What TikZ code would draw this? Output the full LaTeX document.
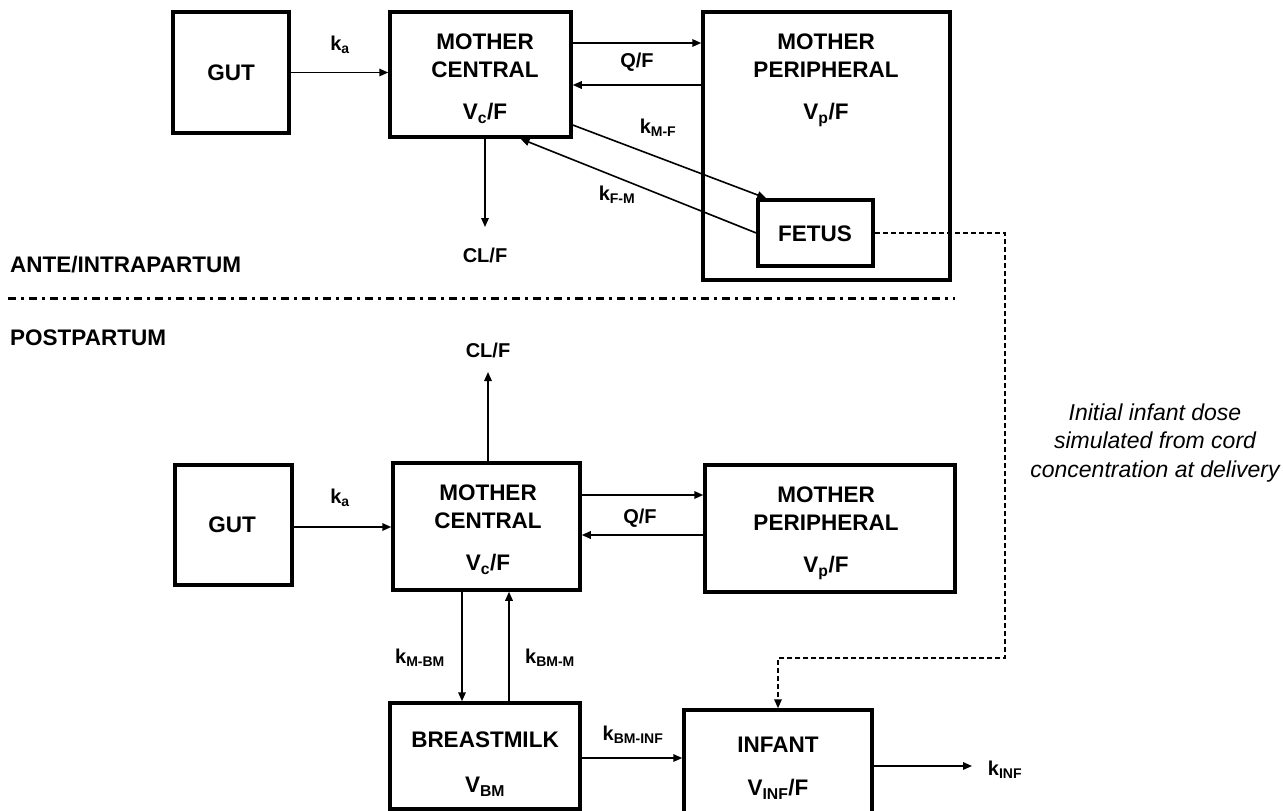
\documentclass[tikz,border=0pt]{standalone}
\usepackage{fontspec}
\setmainfont{Liberation Sans}
\usetikzlibrary{arrows.meta}

\begin{document}
\begin{tikzpicture}[x=1pt,y=-1pt,
  comp/.style={draw,line width=3.5pt,inner sep=0pt},
  comptext/.style={align=center,inner sep=0pt,font=\bfseries\fontsize{22.5}{28}\selectfont},
  rate/.style={inner sep=0pt,font=\bfseries\fontsize{20}{24}\selectfont},
  flow/.style={line width=1.6pt,-{Triangle[length=9pt,width=7.5pt]}},
  cord/.style={line width=1.6pt,dash pattern=on 5pt off 3pt,-{Triangle[length=9pt,width=7.5pt]}}]
\useasboundingbox (0,0) rectangle (1283,811);

% ante/intrapartum
\node [comp,minimum width=116pt,minimum height=121pt] (gut1) at (231,72.5) {};
\node [comptext] (gut1t) at (231,73) {GUT};
\node [comp,minimum width=181pt,minimum height=125pt] (mc1) at (480.5,74.5) {};
\node [comptext,anchor=north] (mc1t) at (485,34) {MOTHER\\CENTRAL\\[14pt]V\textsubscript{c}/F};
\node [comp,minimum width=247pt,minimum height=268pt] (mp1) at (826.5,146) {};
\node [comptext,anchor=north] (mp1t) at (826,34) {MOTHER\\PERIPHERAL\\[14pt]V\textsubscript{p}/F};
\node [comp,minimum width=115pt,minimum height=66pt] (fetus) at (815.5,233) {};
\node [comptext] (fetust) at (815,234) {FETUS};

\node [rate] (ka1) at (340,45) {k\textsubscript{a}};
\node [rate] (qf1) at (637,62) {Q/F};
\node [rate] (kmf) at (658,128) {k\textsubscript{M-F}};
\node [rate] (kfm) at (617,195) {k\textsubscript{F-M}};
\node [rate] (clf1) at (485,255) {CL/F};
\coordinate (clf1end) at (485,227);

\draw [flow] (gut1.east) -- (gut1.east -| mc1.west);
\draw [flow] (mc1.east |- 0,43) -- (mp1.west |- 0,43);
\draw [flow] (mp1.west |- 0,85) -- (mc1.east |- 0,85);
\draw [flow] (mc1.east |- 0,125) -- ([xshift=10pt]fetus.north west);
\draw [flow] (fetus.west) -- ([xshift=40pt]mc1.south);
\draw [flow] (mc1.south -| clf1end) -- (clf1end);

\node [comptext,anchor=west] (ante) at (10,265) {ANTE/INTRAPARTUM};
\draw [line width=3pt,dash pattern=on 8pt off 5pt on 3pt off 5pt] (8,298) -- (955,298);
\node [comptext,anchor=west] (post) at (10,338) {POSTPARTUM};

% postpartum
\node [comp,minimum width=117pt,minimum height=120pt] (gut2) at (233.5,525) {};
\node [comptext] (gut2t) at (232,525) {GUT};
\node [comp,minimum width=187pt,minimum height=127pt] (mc2) at (486.5,526.5) {};
\node [comptext,anchor=north] (mc2t) at (488,485) {MOTHER\\CENTRAL\\[14pt]V\textsubscript{c}/F};
\node [comp,minimum width=250pt,minimum height=127pt] (mp2) at (830,528.5) {};
\node [comptext,anchor=north] (mp2t) at (826,487) {MOTHER\\PERIPHERAL\\[14pt]V\textsubscript{p}/F};
\node [comp,minimum width=190pt,minimum height=106pt] (bm) at (485,756) {};
\node [comptext,anchor=north] (bmt) at (485,732) {BREASTMILK\\[17pt]V\textsubscript{BM}};
\node [comp,minimum width=188pt,minimum height=130pt] (inf) at (778,775) {};
\node [comptext,anchor=north] (inft) at (778,737) {INFANT\\[15pt]V\textsubscript{INF}/F};

\node [rate] (clf2) at (488,350) {CL/F};
\node [rate] (ka2) at (340,498) {k\textsubscript{a}};
\node [rate] (qf2) at (640,518) {Q/F};
\node [rate] (kmbm) at (420,658) {k\textsubscript{M-BM}};
\node [rate] (kbmm) at (550,658) {k\textsubscript{BM-M}};
\node [rate] (kbminf) at (633,735) {k\textsubscript{BM-INF}};
\node [rate] (kinf) at (1005,770) {k\textsubscript{INF}};
\coordinate (clf2end) at (488,372);
\coordinate (kinfend) at (972,766);

\draw [flow] (mc2.north -| clf2end) -- (clf2end);
\draw [flow] (gut2.east |- 0,527) -- (mc2.west |- 0,527);
\draw [flow] (mc2.east |- 0,495) -- (mp2.west |- 0,495);
\draw [flow] (mp2.west |- 0,535) -- (mc2.east |- 0,535);
\draw [flow] (mc2.south -| 462,0) -- (bm.north -| 462,0);
\draw [flow] (bm.north -| 509,0) -- (mc2.south -| 509,0);
\draw [flow] (bm.east |- 0,758) -- (inf.west |- 0,758);
\draw [flow] (inf.east |- kinfend) -- (kinfend);

% cord concentration -> infant
\coordinate (cordbend) at (1005,658);
\draw [cord] (fetus.east) -| (cordbend) -- (cordbend -| inf.north) -- (inf.north);
\node [align=center,font=\itshape\fontsize{23}{28.5}\selectfont] (dose) at (1155,443)
  {Initial infant dose\\simulated from cord\\concentration at delivery};
\end{tikzpicture}
\end{document}
